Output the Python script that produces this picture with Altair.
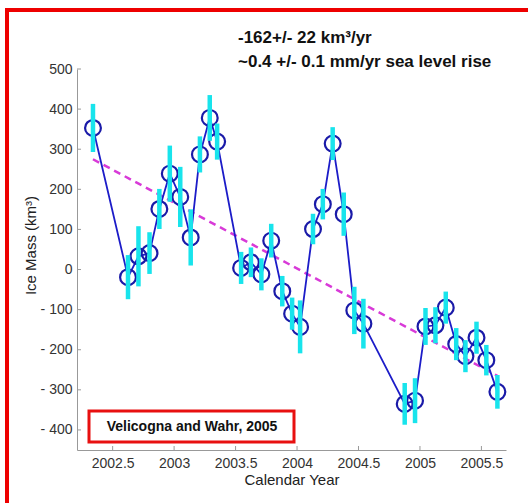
import altair as alt
import pandas as pd

years = [2002.34, 2002.625, 2002.71, 2002.80, 2002.88, 2002.965, 2003.05, 2003.135,
         2003.21, 2003.29, 2003.35, 2003.545, 2003.625, 2003.71, 2003.79, 2003.88,
         2003.96, 2004.025, 2004.13, 2004.21, 2004.29, 2004.38, 2004.466, 2004.54,
         2004.876, 2004.96, 2005.045, 2005.126, 2005.21, 2005.295, 2005.37, 2005.46,
         2005.54, 2005.63]
mass = [353, -19, 33, 41, 151, 239, 181, 80, 287, 378, 319, 4, 18, -12, 72, -54,
        -110, -143, 101, 163, 314, 138, -102, -135, -335, -327, -142, -139, -95,
        -186, -216, -170, -226, -305]
err = [60, 55, 75, 52, 50, 70, 75, 70, 45, 57, 45, 40, 37, 40, 42, 38, 40, 66, 38,
       38, 41, 54, 59, 62, 52, 56, 46, 45, 40, 40, 40, 40, 38, 42]

trend_years = [2002.34, 2005.63]
trend_mass = [275, -265]

x_ticks = [2002.5, 2003, 2003.5, 2004, 2004.5, 2005, 2005.5]
y_ticks = [-400, -300, -200, -100, 0, 100, 200, 300, 400, 500]

header_line1 = "-162+/- 22 km\u00b3/yr"
header_line2 = "~0.4 +/- 0.1 mm/yr sea level rise"
source_label = "Velicogna and Wahr, 2005"

W, H = 429, 381
xdom = [2002.21, 2005.70]
ydom = [-450, 500]

df = pd.DataFrame({"year": years, "mass": mass,
                   "lo": [m - e for m, e in zip(mass, err)],
                   "hi": [m + e for m, e in zip(mass, err)]})
tdf = pd.DataFrame({"year": trend_years, "mass": trend_mass})

xs = alt.Scale(domain=xdom, nice=False, zero=False)
ys = alt.Scale(domain=ydom, nice=False, zero=False)

xaxis = alt.Axis(values=x_ticks, format=".1~f", title="Calendar Year", grid=False,
                 ticks=False, labelPadding=6, titlePadding=2)
yaxis = alt.Axis(values=y_ticks, title="Ice Mass (km\u00b3)", grid=False, ticks=False,
                 labelPadding=5,
                 labelExpr="datum.value < 0 ? '- ' + abs(datum.value) : '' + datum.value",
                 titleX=-47, titleY=176, titleAngle=270, titleBaseline="middle",
                 titleAlign="center")

base = alt.Chart(df)

trend = alt.Chart(tdf).mark_line(color="#d83ad8", strokeWidth=2.5,
                                 strokeDash=[7, 5]).encode(
    x=alt.X("year:Q", scale=xs, axis=xaxis),
    y=alt.Y("mass:Q", scale=ys, axis=yaxis))

line = base.mark_line(color="#1c1cc8", strokeWidth=1.8).encode(
    x=alt.X("year:Q", scale=xs), y=alt.Y("mass:Q", scale=ys))

circles = base.mark_point(shape="circle", filled=False, size=250, color="#1a1aa8",
                          strokeWidth=2.2, opacity=1).encode(
    x=alt.X("year:Q", scale=xs), y=alt.Y("mass:Q", scale=ys))

bars = base.mark_rule(color="#18e4ec", strokeWidth=4.5).encode(
    x=alt.X("year:Q", scale=xs), y=alt.Y("lo:Q", scale=ys), y2="hi:Q")

# inward tick marks
xt = alt.Chart(pd.DataFrame({"v": x_ticks})).mark_rule(color="#999999", strokeWidth=1).encode(
    x=alt.X("v:Q", scale=xs), y=alt.value(H), y2=alt.value(H - 4))
yt = alt.Chart(pd.DataFrame({"v": y_ticks})).mark_rule(color="#999999", strokeWidth=1).encode(
    y=alt.Y("v:Q", scale=ys), x=alt.value(0), x2=alt.value(4))

def label(text, x, y, size, align="left"):
    return alt.Chart(pd.DataFrame({"t": [text]})).mark_text(
        align=align, baseline="middle", fontSize=size, fontWeight="bold",
        font="Liberation Sans", color="#111111").encode(
        text="t:N", x=alt.value(x), y=alt.value(y))

head1 = label(header_line1, 161, -31, 17)
head2 = label(header_line2, 161, -7, 17)

box = alt.Chart(pd.DataFrame({"a": [0]})).mark_rect(
    fill="white", stroke="#e81010", strokeWidth=3).encode(
    x=alt.value(12), x2=alt.value(217), y=alt.value(342), y2=alt.value(373))
box_text = label(source_label, 115, 357.5, 14, align="center")

frame = alt.Chart(pd.DataFrame({"a": [0]})).mark_rect(
    fill=None, stroke="#ee0000", strokeWidth=4).encode(
    x=alt.value(-70), x2=alt.value(470), y=alt.value(-59), y2=alt.value(450))

chart = alt.layer(trend, line, circles, bars, xt, yt, head1, head2, box, box_text, frame).properties(
    width=W, height=H,
    autosize=alt.AutoSizeParams(type="none"),
    padding={"left": 77, "top": 69, "right": 22, "bottom": 53},
    background="white",
).configure_view(stroke=None).configure_axis(
    domainColor="#999999", domainWidth=1,
    labelFont="Liberation Sans", labelFontSize=14, labelColor="#333333",
    titleFont="Liberation Sans", titleFontSize=15, titleColor="#222222",
    titleFontWeight="normal",
)

chart.save("out.html", embed_options={"renderer": "svg", "actions": False})
